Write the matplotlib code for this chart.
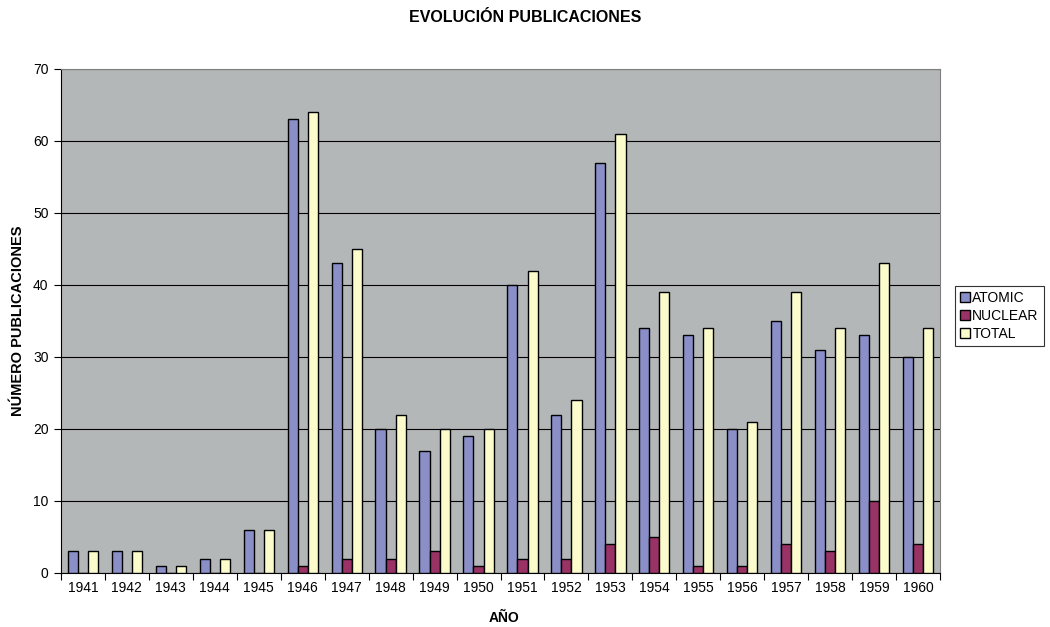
import matplotlib
matplotlib.use("Agg")
import matplotlib.pyplot as plt
import numpy as np

plt.rcParams['font.family'] = ['Liberation Sans', 'DejaVu Sans']

years = ['1941', '1942', '1943', '1944', '1945', '1946', '1947', '1948', '1949', '1950',
         '1951', '1952', '1953', '1954', '1955', '1956', '1957', '1958', '1959', '1960']
atomic = [3, 3, 1, 2, 6, 63, 43, 20, 17, 19, 40, 22, 57, 34, 33, 20, 35, 31, 33, 30]
nuclear = [0, 0, 0, 0, 0, 1, 2, 2, 3, 1, 2, 2, 4, 5, 1, 1, 4, 3, 10, 4]
total = [3, 3, 1, 2, 6, 64, 45, 22, 20, 20, 42, 24, 61, 39, 34, 21, 39, 34, 43, 34]
series_names = ['ATOMIC', 'NUCLEAR', 'TOTAL']
colors = ['#8b8fc8', '#993366', '#fbfbcb']

W, H = 1050, 627
fig = plt.figure(figsize=(W / 100, H / 100), dpi=100)
ax = fig.add_axes([61 / W, 1 - 573 / H, (940 - 61) / W, (573 - 69) / H])
ax.set_facecolor('#b4b7b8')

x = np.arange(len(years))
w = 0.23
for i, (vals, name, col) in enumerate(zip([atomic, nuclear, total], series_names, colors)):
    ax.bar(x + (i - 1) * w, vals, width=w, color=col, edgecolor='black',
           linewidth=1.0, label=name, zorder=3)

ax.set_xlim(-0.5, len(years) - 0.5)
ax.set_ylim(0, 70)
ax.set_yticks(np.arange(0, 71, 10))
ax.yaxis.grid(True, color='black', linewidth=0.8, zorder=0)
ax.set_axisbelow(True)

# category ticks at boundaries, labels centred under each group
ax.set_xticks(np.arange(-0.5, len(years), 1.0))
ax.set_xticklabels([])
ax.set_xticks(x, minor=True)
ax.set_xticklabels(years, minor=True, fontsize=10)
ax.tick_params(axis='x', which='minor', length=0, pad=6)
ax.tick_params(axis='x', which='major', length=5, width=0.8, direction='out')
ax.tick_params(axis='y', length=5, width=0.8, direction='out', labelsize=10, pad=4)

for s in ['left', 'bottom']:
    ax.spines[s].set_color('black')
    ax.spines[s].set_linewidth(0.8)
for s in ['top', 'right']:
    ax.spines[s].set_color('#808080')
    ax.spines[s].set_linewidth(0.8)

fig.text(504 / W, 1 - 618 / H, 'AÑO', ha='center', va='center',
         fontsize=10, fontweight='bold')
fig.text(18 / W, 1 - 321 / H, 'NÚMERO PUBLICACIONES', ha='center', va='center',
         rotation=90, fontsize=10.5, fontweight='bold')
fig.text(525 / W, 1 - 17 / H, 'EVOLUCIÓN PUBLICACIONES', ha='center', va='center',
         fontsize=11.5, fontweight='bold')

leg = fig.legend(loc='upper left', bbox_to_anchor=(955 / W, 1 - 286 / H),
                 fontsize=10, frameon=True, fancybox=False, edgecolor='black',
                 handlelength=0.75, handleheight=0.75, handletextpad=0.15,
                 borderpad=0.35, labelspacing=0.3, borderaxespad=0)
leg.get_frame().set_linewidth(0.8)

fig.savefig('out.png', dpi=100, facecolor='white')
